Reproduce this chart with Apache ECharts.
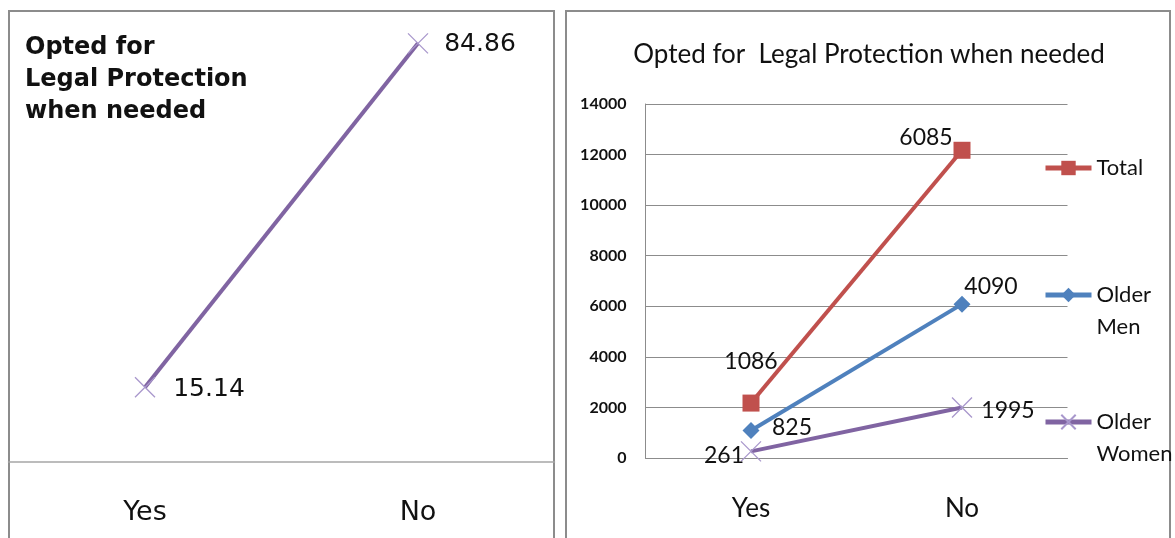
<!DOCTYPE html>
<html><head><meta charset="utf-8">
<script src="https://cdn.jsdelivr.net/npm/echarts@6/dist/echarts.min.js"></script>
<style>html,body{margin:0;padding:0;background:#fff}#c{width:1175px;height:538px}</style>
</head><body><div id="c"></div>
<script>
var categories = ['Yes', 'No'];
var pctValues = [15.14, 84.86];
var womenValues = [261, 1995];
var menValues = [825, 4090];
var totalValues = [1086, 6085];
var yTicks = [0, 2000, 4000, 6000, 8000, 10000, 12000, 14000];

var NARROW = "Lato, 'Open Sans', sans-serif";
var WIDE = "'DejaVu Sans', Verdana, sans-serif";
var xPath = 'path://M0,0L20,20M20,0L0,20';

function withOffsets(vals, offs) {
  return vals.map(function (v, i) {
    return { value: v, label: { offset: offs[i] } };
  });
}

var legendBase = { orient: 'vertical', left: 1043, padding: 0, itemWidth: 46, itemHeight: 18, itemGap: 0,
  lineStyle: { width: 5 },
  textStyle: { fontFamily: NARROW, fontSize: 22, lineHeight: 32, color: '#111' } };

var chart = echarts.init(document.getElementById('c'));
chart.setOption({
  animation: false,
  title: [
    { text: 'Opted for\nLegal Protection\nwhen needed', left: 20, top: 27,
      textStyle: { fontFamily: WIDE, fontWeight: 'bold', fontSize: 24, lineHeight: 32, color: '#111' } },
    { text: 'Opted for  Legal Protection when needed', left: 864, top: 37, textAlign: 'center',
      textStyle: { fontFamily: NARROW, fontWeight: 'normal', fontSize: 26, color: '#111' } }
  ],
  graphic: [
    { type: 'rect', shape: { x: 9, y: 11, width: 545, height: 540 }, style: { fill: 'none', stroke: '#8c8c8c', lineWidth: 2 }, silent: true },
    { type: 'rect', shape: { x: 566, y: 11, width: 604, height: 540 }, style: { fill: 'none', stroke: '#8c8c8c', lineWidth: 2 }, silent: true }
  ],
  legend: [
    Object.assign({}, legendBase, { data: ['Total'], top: 152 }),
    Object.assign({}, legendBase, { data: ['Older Men'], top: 247,
      formatter: function () { return '\nOlder\nMen'; } }),
    Object.assign({}, legendBase, { data: ['Older Women'], top: 374,
      formatter: function () { return '\nOlder\nWomen'; } })
  ],
  grid: [
    { left: 8.5, right: 620.5, top: 18, bottom: 76 },
    { left: 645.5, right: 107.5, top: 104, bottom: 80 }
  ],
  xAxis: [
    { type: 'category', gridIndex: 0, data: categories, boundaryGap: true,
      axisLine: { lineStyle: { color: '#a6a6a6', width: 1.5 } }, axisTick: { show: false },
      axisLabel: { margin: 37, fontFamily: WIDE, fontSize: 27, color: '#111' } },
    { type: 'category', gridIndex: 1, data: categories, boundaryGap: true,
      axisLine: { lineStyle: { color: '#8c8c8c', width: 1 } }, axisTick: { show: false },
      axisLabel: { margin: 38, fontFamily: NARROW, fontSize: 26, color: '#111' } }
  ],
  yAxis: [
    { type: 'value', gridIndex: 0, min: 0, max: 90, show: false, splitLine: { show: false } },
    { type: 'value', gridIndex: 1, min: yTicks[0], max: yTicks[yTicks.length - 1], interval: 2000,
      axisLine: { show: true, lineStyle: { color: '#8c8c8c' } }, axisTick: { show: false },
      splitLine: { lineStyle: { color: '#8c8c8c', width: 1 } },
      axisLabel: { margin: 19, fontFamily: NARROW, fontWeight: 'bold', fontSize: 16, color: '#111',
        formatter: function (v) { return String(v); } } }
  ],
  series: [
    { name: 'Percent', type: 'line', xAxisIndex: 0, yAxisIndex: 0,
      data: withOffsets(pctValues, [[64, 2], [62, 1]]),
      color: '#8064A2', lineStyle: { width: 4, color: '#8064A2' },
      symbol: xPath, symbolSize: 20, showSymbol: true,
      itemStyle: { color: '#a897cc', borderColor: '#a897cc', borderWidth: 1.3 },
      label: { show: true, position: 'inside', fontFamily: WIDE, fontSize: 25, color: '#111' },
      z: 3 },
    { name: 'Older Women', type: 'line', stack: 'all', xAxisIndex: 1, yAxisIndex: 1,
      data: withOffsets(womenValues, [[-27, 4], [46, 3]]),
      color: '#8064A2', lineStyle: { width: 4, color: '#8064A2' },
      symbol: xPath, symbolSize: 20,
      itemStyle: { color: '#a897cc', borderColor: '#a897cc', borderWidth: 1.3 },
      label: { show: true, position: 'inside', fontFamily: NARROW, fontSize: 23, color: '#111' } },
    { name: 'Older Men', type: 'line', stack: 'all', xAxisIndex: 1, yAxisIndex: 1,
      data: withOffsets(menValues, [[41, -3], [29, -18]]),
      color: '#4F81BD', lineStyle: { width: 4, color: '#4F81BD' },
      symbol: 'diamond', symbolSize: 17,
      itemStyle: { color: '#4F81BD' },
      label: { show: true, position: 'inside', fontFamily: NARROW, fontSize: 23, color: '#111' } },
    { name: 'Total', type: 'line', stack: 'all', xAxisIndex: 1, yAxisIndex: 1,
      data: withOffsets(totalValues, [[0, -42], [-36, -13]]),
      color: '#C0504D', lineStyle: { width: 4, color: '#C0504D' },
      symbol: 'rect', symbolSize: 17,
      itemStyle: { color: '#C0504D' },
      label: { show: true, position: 'inside', fontFamily: NARROW, fontSize: 23, color: '#111' } }
  ]
});
</script></body></html>
